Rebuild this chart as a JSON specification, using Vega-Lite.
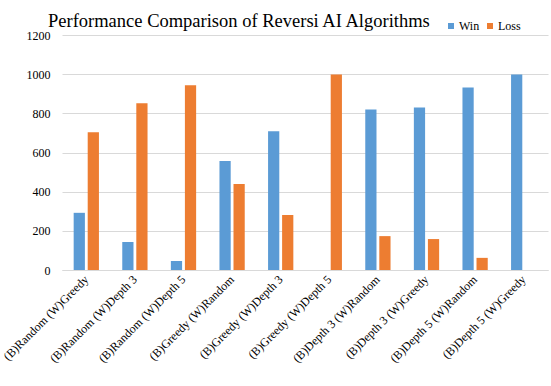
{
  "$schema": "https://vega.github.io/schema/vega-lite/v6.json",
  "width": 486,
  "height": 235,
  "autosize": "none",
  "padding": {"left": 62, "top": 35, "right": 3, "bottom": 116},
  "background": "white",
  "title": {
    "text": "Performance Comparison of Reversi AI Algorithms",
    "font": "Liberation Serif",
    "fontSize": 18.5,
    "fontWeight": "normal",
    "color": "#000000",
    "anchor": "start",
    "frame": "group",
    "dx": -14,
    "dy": 20,
    "offset": 10
  },
  "data": {
    "values": [
      {"matchup": "(B)Random (W)Greedy", "result": "Win", "count": 292},
      {"matchup": "(B)Random (W)Greedy", "result": "Loss", "count": 704},
      {"matchup": "(B)Random (W)Depth 3", "result": "Win", "count": 143},
      {"matchup": "(B)Random (W)Depth 3", "result": "Loss", "count": 852},
      {"matchup": "(B)Random (W)Depth 5", "result": "Win", "count": 46},
      {"matchup": "(B)Random (W)Depth 5", "result": "Loss", "count": 944},
      {"matchup": "(B)Greedy (W)Random", "result": "Win", "count": 556},
      {"matchup": "(B)Greedy (W)Random", "result": "Loss", "count": 439},
      {"matchup": "(B)Greedy (W)Depth 3", "result": "Win", "count": 709},
      {"matchup": "(B)Greedy (W)Depth 3", "result": "Loss", "count": 281},
      {"matchup": "(B)Greedy (W)Depth 5", "result": "Win", "count": 0},
      {"matchup": "(B)Greedy (W)Depth 5", "result": "Loss", "count": 998},
      {"matchup": "(B)Depth 3 (W)Random", "result": "Win", "count": 820},
      {"matchup": "(B)Depth 3 (W)Random", "result": "Loss", "count": 173},
      {"matchup": "(B)Depth 3 (W)Greedy", "result": "Win", "count": 830},
      {"matchup": "(B)Depth 3 (W)Greedy", "result": "Loss", "count": 158},
      {"matchup": "(B)Depth 5 (W)Random", "result": "Win", "count": 932},
      {"matchup": "(B)Depth 5 (W)Random", "result": "Loss", "count": 62},
      {"matchup": "(B)Depth 5 (W)Greedy", "result": "Win", "count": 998},
      {"matchup": "(B)Depth 5 (W)Greedy", "result": "Loss", "count": 0}
    ]
  },
  "mark": {"type": "bar"},
  "encoding": {
    "x": {
      "field": "matchup",
      "type": "nominal",
      "sort": null,
      "title": null,
      "scale": {"paddingInner": 0.48, "paddingOuter": 0.24},
      "axis": {
        "labelAngle": -45,
        "labelAlign": "right",
        "labelBaseline": "middle",
        "labelPadding": 7,
        "ticks": false,
        "domainColor": "#D9D9D9",
        "domainWidth": 1,
        "grid": false,
        "labelLimit": 0
      }
    },
    "xOffset": {
      "field": "result",
      "type": "nominal",
      "sort": ["Win", "Loss"],
      "scale": {"paddingInner": 0.2}
    },
    "y": {
      "field": "count",
      "type": "quantitative",
      "title": null,
      "scale": {"domain": [0, 1200], "nice": false},
      "axis": {
        "values": [0, 200, 400, 600, 800, 1000, 1200],
        "format": "d",
        "labelPadding": 12,
        "ticks": false,
        "domain": false,
        "gridColor": "#D9D9D9",
        "gridWidth": 1
      }
    },
    "color": {
      "field": "result",
      "type": "nominal",
      "sort": ["Win", "Loss"],
      "scale": {"domain": ["Win", "Loss"], "range": ["#5B9BD5", "#ED7D31"]},
      "legend": {
        "title": null,
        "orient": "none",
        "direction": "horizontal",
        "legendX": 383,
        "legendY": -15,
        "symbolType": "square",
        "symbolSize": 36,
        "symbolStrokeWidth": 0,
        "labelOffset": 2,
        "columnPadding": 4
      }
    }
  },
  "config": {
    "view": {"stroke": null},
    "font": "Liberation Serif",
    "axis": {
      "labelFont": "Liberation Serif",
      "labelFontSize": 12,
      "labelColor": "#000000"
    },
    "legend": {
      "labelFont": "Liberation Serif",
      "labelFontSize": 12,
      "labelColor": "#000000"
    }
  }
}
